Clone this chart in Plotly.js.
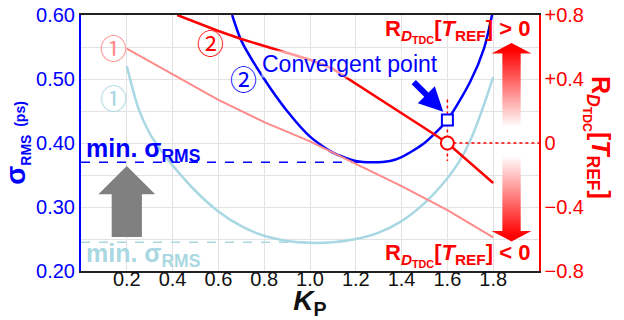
<!DOCTYPE html>
<html><head><meta charset="utf-8">
<script src="https://cdn.plot.ly/plotly-3.0.1.min.js"></script>
<style>html,body{margin:0;padding:0;background:#fff}#chart{width:624px;height:320px}</style>
</head><body><div id="chart"></div>
<script>
// ---- data ----
const xTickVals = [0.2,0.4,0.6,0.8,1.0,1.2,1.4,1.6,1.8];
const xTickText = ['0.2','0.4','0.6','0.8','1.0','1.2','1.4','1.6','1.8'];
const yTickVals = [0.2,0.3,0.4,0.5,0.6];
const yTickText = ['0.20','0.30','0.40','0.50','0.60'];
const y2TickVals = [-0.8,-0.4,0,0.4,0.8];
const y2TickText = ['\u22120.8','\u22120.4','0','+0.4','+0.8'];

// sigma_RMS, case 1 (light blue)
const kpSigma1 = [0.2,0.25,0.3,0.35,0.4,0.5,0.6,0.7,0.8,0.9,1.0,1.1,1.2,1.3,1.4,1.5,1.6,1.65,1.7,1.75,1.8];
const sigma1   = [0.52,0.455,0.415,0.388,0.365,0.325,0.293,0.27,0.255,0.247,0.244,0.245,0.25,0.26,0.278,0.306,0.345,0.37,0.404,0.45,0.503];
// sigma_RMS, case 2 (dark blue)
const kpSigma2 = [0.66,0.7,0.8,0.9,1.0,1.1,1.2,1.27,1.35,1.4,1.5,1.6,1.7,1.76,1.795];
const sigma2   = [0.60,0.56,0.50,0.45,0.41,0.385,0.372,0.37,0.372,0.378,0.40,0.436,0.496,0.548,0.60];
// R_DTDC[T_REF], case 1 (light red)
const kpR1 = [0.2,0.4,0.6,0.8,1.0,1.2,1.4,1.6,1.8];
const r1   = [0.59,0.43,0.27,0.13,0.01,-0.13,-0.27,-0.42,-0.59];
// R_DTDC[T_REF], case 2 (red)
const kpR2 = [0.42,0.5,0.6,0.7,0.8,0.9,1.0,1.1,1.2,1.3,1.4,1.5,1.6,1.7,1.8];
const r2   = [0.80,0.755,0.70,0.65,0.607,0.563,0.52,0.463,0.372,0.28,0.187,0.094,0.0,-0.125,-0.25];

const kpConv = 1.6, sigmaConv = 0.436, rConv = 0;
const minSigma2 = 0.37, kpMin2 = 1.27;
const minSigma1 = 0.245, kpMin1 = 1.0;

// decorative arrows (outline polygons)
const grayArrowX = [0.134,0.266,0.266,0.324,0.2,0.076,0.134,0.134];
const grayArrowY = [0.253,0.253,0.320,0.320,0.364,0.320,0.320,0.253];
const upArrowX = [1.84,1.92,1.92,1.967,1.88,1.793,1.84,1.84];
const upArrowY = [0.04,0.04,0.56,0.56,0.625,0.56,0.56,0.04];
const dnArrowX = [1.84,1.92,1.92,1.967,1.88,1.793,1.84,1.84];
const dnArrowY = [-0.03,-0.03,-0.55,-0.55,-0.615,-0.55,-0.55,-0.03];

const BLUE = '#0000ff', LBLUE = '#a9d8e2', RED = '#ff0000', LRED = '#ff8a8a';
const FONT = 'Arial, "Liberation Sans", sans-serif';

const traces = [
  {x:grayArrowX, y:grayArrowY, fill:'toself', fillcolor:'#808080', mode:'lines', line:{width:0}, hoverinfo:'skip'},
  {x:[0,kpMin2], y:[minSigma2,minSigma2], mode:'lines', line:{color:BLUE,width:1.5,dash:'dash'}, hoverinfo:'skip'},
  {x:[0,kpMin1], y:[minSigma1,minSigma1], mode:'lines', line:{color:LBLUE,width:1.5,dash:'dash'}, hoverinfo:'skip'},
  {x:kpSigma1, y:sigma1, mode:'lines', line:{color:LBLUE,width:2.5,shape:'spline',smoothing:0.7}, name:'σ case 1'},
  {x:kpSigma2, y:sigma2, mode:'lines', line:{color:BLUE,width:2.5,shape:'spline',smoothing:0.7}, name:'σ case 2'},
  {x:[kpConv,kpConv], y:[0.468,0.372], mode:'lines', line:{color:RED,width:1.5,dash:'dot'}, hoverinfo:'skip'},
  {x:[kpConv], y:[sigmaConv], mode:'markers', marker:{symbol:'square',size:11,color:'#fff',line:{color:BLUE,width:2}}, hoverinfo:'skip'},
  {x:upArrowX, y:upArrowY, yaxis:'y2', fill:'toself', mode:'lines', line:{width:0},
   fillgradient:{type:'vertical', start:0.1, stop:0.58, colorscale:[[0,'rgba(255,255,255,1)'],[1,'rgba(255,0,0,1)']]}, hoverinfo:'skip'},
  {x:dnArrowX, y:dnArrowY, yaxis:'y2', fill:'toself', mode:'lines', line:{width:0},
   fillgradient:{type:'vertical', start:-0.58, stop:-0.08, colorscale:[[0,'rgba(255,0,0,1)'],[1,'rgba(255,255,255,1)']]}, hoverinfo:'skip'},
  {x:kpR1, y:r1, yaxis:'y2', mode:'lines', line:{color:LRED,width:2}, name:'R case 1'},
  {x:kpR2, y:r2, yaxis:'y2', mode:'lines', line:{color:RED,width:2.5}, name:'R case 2'},
  {x:[kpConv,2.0], y:[rConv,rConv], yaxis:'y2', mode:'lines', line:{color:RED,width:1.5,dash:'dot'}, hoverinfo:'skip'},
  {x:[kpConv], y:[rConv], yaxis:'y2', mode:'markers', marker:{symbol:'circle',size:13,color:'#fff',line:{color:RED,width:2}}, hoverinfo:'skip'}
];

const rLabel = "<b>R<sub><i>D</i><sub>TDC</sub></sub>[<i>T</i><sub>REF</sub>]";
const circ = (t,x,y,c) => ({text:t, x:x, y:y, xref:'paper', yref:'paper', showarrow:false,
  font:{family:'"Noto Sans CJK JP", "DejaVu Sans", sans-serif', size:27, color:c}, xanchor:'center', yanchor:'middle'});
const px = p => (p-81)/458, py = p => (271-p)/256;

const layout = {
  width:624, height:320, showlegend:false,
  margin:{l:81, r:85, t:15, b:49},
  paper_bgcolor:'#fff', plot_bgcolor:'#fff',
  font:{family:FONT, size:20},
  xaxis:{range:[0,2], tickvals:xTickVals, ticktext:xTickText, showgrid:true, gridcolor:'#e2e2e2', gridwidth:1,
    showline:true, linecolor:'#222', linewidth:2, mirror:true, zeroline:false, ticks:'',
    ticklabelstandoff:-11,
    tickfont:{size:20, color:'#111'},
    title:{text:'<b><i>K</i><sub>P</sub></b>', font:{size:28, color:'#111'}, standoff:10}},
  yaxis:{range:[0.2,0.6], tickvals:yTickVals, ticktext:yTickText, showgrid:true, gridcolor:'#e2e2e2',
    minor:{dtick:0.05, tick0:0.2, showgrid:true, gridcolor:'#e2e2e2', ticks:''},
    showline:true, linecolor:BLUE, linewidth:2, zeroline:false, ticks:'',
    tickfont:{size:20, color:BLUE},
    title:{text:"<b>σ<sub><span style='font-size:14px'>RMS</span></sub> <span style='font-size:14px'>(ps)</span></b>", font:{size:28, color:BLUE}, standoff:2}},
  yaxis2:{range:[-0.8,0.8], overlaying:'y', side:'right', tickvals:y2TickVals, ticktext:y2TickText,
    showgrid:false, zeroline:false, showline:true, linecolor:RED, linewidth:1.5, ticks:'',
    tickfont:{size:20, color:RED}},
  annotations:[
    {text:rLabel+"</b>", textangle:90, x:px(598), y:py(137), xref:'paper', yref:'paper', showarrow:false,
      font:{size:25, color:RED}, xanchor:'center', yanchor:'middle'},
    {text:rLabel+" &gt; 0</b>", x:px(457), y:py(31), xref:'paper', yref:'paper', showarrow:false,
      font:{size:22, color:RED}, xanchor:'center', yanchor:'middle'},
    {text:rLabel+" &lt; 0</b>", x:px(457), y:py(255), xref:'paper', yref:'paper', showarrow:false,
      font:{size:22, color:RED}, xanchor:'center', yanchor:'middle'},
    {text:"<b>min. σ<sub>RMS</sub></b>", x:px(84), y:py(150), xref:'paper', yref:'paper', showarrow:false,
      font:{size:25, color:BLUE}, xanchor:'left', yanchor:'middle'},
    {text:"<b>min. σ<sub>RMS</sub></b>", x:px(84), y:py(255), xref:'paper', yref:'paper', showarrow:false,
      font:{size:25, color:LBLUE}, xanchor:'left', yanchor:'middle'},
    {text:"Convergent point", x:px(350), y:py(64), xref:'paper', yref:'paper', showarrow:false,
      font:{size:23, color:BLUE}, xanchor:'center', yanchor:'middle', bgcolor:'rgba(255,255,255,0.6)', borderpad:0},
    {text:'', x:1.582, y:0.449, xref:'x', yref:'y', showarrow:true, ax:-31, ay:-31,
      arrowcolor:BLUE, arrowwidth:6, arrowhead:2, arrowsize:0.8},
    circ('①', px(113), py(47), LRED),
    circ('①', px(113), py(97), LBLUE),
    circ('②', px(210), py(42), RED),
    circ('②', px(243), py(78), BLUE)
  ]
};
Plotly.newPlot('chart', traces, layout, {displayModeBar:false, staticPlot:true});
</script>
</body></html>
